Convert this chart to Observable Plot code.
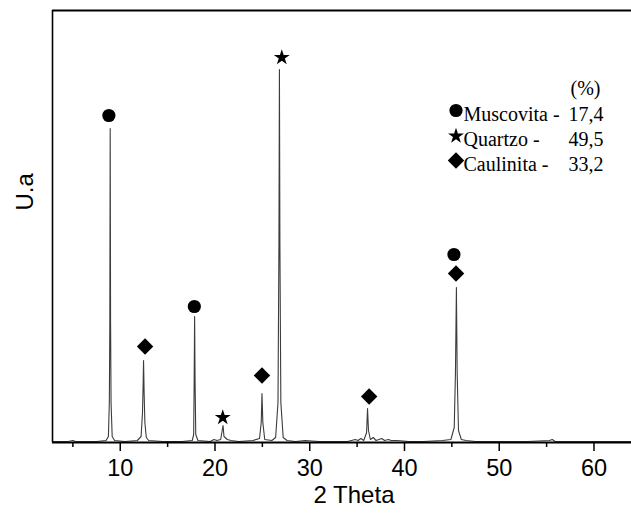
<!DOCTYPE html>
<html><head><meta charset="utf-8">
<script src="https://cdn.jsdelivr.net/npm/d3@7"></script>
<script src="https://cdn.jsdelivr.net/npm/@observablehq/plot@0.6"></script>
<style>body{margin:0;background:#fff} #chart{width:631px;height:513px}</style>
</head><body><div id="chart"></div>
<script>
// XRD profile: 2θ (degrees) and intensity (arbitrary units)
const twoTheta = [2.9,4.5,5.0,5.3,7.5,8.5,8.75,8.85,8.9,8.94,8.98,9.03,9.15,9.4,10.5,11.8,12.2,12.35,12.42,12.46,12.52,12.6,12.75,13.0,14.5,16.5,17.6,17.75,17.8,17.85,17.9,17.97,18.2,19.5,19.9,20.2,20.6,20.85,20.95,21.3,21.7,22.5,24.0,24.7,24.88,24.96,25.05,25.25,26.0,26.4,26.65,26.75,26.8,26.85,26.95,27.2,27.6,28.5,29.5,31.0,32.5,34.0,34.8,35.1,35.4,35.7,36.0,36.1,36.2,36.4,36.7,37.0,37.6,37.9,38.3,38.6,39.2,40.5,42.0,44.0,44.9,45.25,45.38,45.48,45.56,45.7,46.0,46.5,47.5,49.0,51.0,53.0,55.3,55.6,55.9,57.0,59.0,61.0,63.9];
const intensity = [1,1,2,1,1,2,6,40,120,314,120,40,6,2,1,2,6,30,60,82,50,20,5,2,1,1,2,8,60,126,60,8,2,1,3,2,3,17,6,3,2,1,2,4,20,49,20,3,2,5,40,200,373,200,40,5,2,1,2,1,1,1,3,2,4,2,10,34,12,3,5,2,4,2,3,2,2,1,1,2,3,15,70,155,70,12,3,2,1,1,1,1,2,3,1,1,1,1,1];

// Phase markers above the peaks
const markerPhase = ["Muscovita","Caulinita","Muscovita","Quartzo","Caulinita","Quartzo","Caulinita","Muscovita","Caulinita"];
const markerTheta = [8.8,12.62,17.82,20.82,24.96,27.05,36.27,45.22,45.44];
const markerIntensity = [327,96,136,25,67,385,46,188,169];

// Legend
const legendNames = ["Muscovita -","Quartzo -","Caulinita -"];
const legendValues = ["17,4","49,5","33,2"];
const legendHeader = "(%)";

// Axis ticks
const majorTicks = [10,20,30,40,50,60];
const minorTicks = [5,15,25,35,45,55];
const xLabel = "2 Theta";
const yLabel = "U.a";

const symbolOf = {Muscovita: "circle", Quartzo: "star", Caulinita: "diamond2"};
const radiusOf = {Muscovita: 6.6, Quartzo: 5.0, Caulinita: 7.4};

const profile = twoTheta.map((t, i) => ({t, c: intensity[i]}));
const markers = markerPhase.map((p, i) => ({p, t: markerTheta[i], c: markerIntensity[i]}));

const X0 = 2.85, X1 = 63.96, YMAX = 432;
const serif = "'Liberation Serif', 'Times New Roman', serif";

const legendMarks = [];
legendMarks.push(Plot.text([legendHeader], {text: d => d, frameAnchor: "top-left", dx: 518, dy: 70, textAnchor: "start", fontFamily: serif, fontSize: 20, fill: "black"}));
["Muscovita","Quartzo","Caulinita"].forEach((p, i) => {
  const cy = [100, 125.5, 150][i];
  legendMarks.push(Plot.dot([p], {frameAnchor: "top-left", dx: 403.5, dy: cy, symbol: symbolOf[p], r: radiusOf[p], fill: "black", stroke: "none"}));
  legendMarks.push(Plot.text([legendNames[i]], {text: d => d, frameAnchor: "top-left", dx: 411, dy: cy - 4, textAnchor: "start", fontFamily: serif, fontSize: 20, fill: "black"}));
  legendMarks.push(Plot.text([legendValues[i]], {text: d => d, frameAnchor: "top-left", dx: 551, dy: cy - 4, textAnchor: "end", fontFamily: serif, fontSize: 20, fill: "black"}));
});

const plot = Plot.plot({
  width: 631, height: 513,
  marginLeft: 52, marginRight: 0, marginTop: 10, marginBottom: 71,
  style: {fontFamily: "'Liberation Sans', Arial, sans-serif", background: "white", color: "black"},
  x: {domain: [X0, X1], label: null},
  y: {domain: [0, YMAX], axis: null},
  marks: [
    Plot.line(profile, {x: "t", y: "c", stroke: "#3c3c3c", strokeWidth: 1.1}),
    ...["Muscovita","Quartzo","Caulinita"].map(p =>
      Plot.dot(markers.filter(d => d.p === p), {x: "t", y: "c", symbol: () => symbolOf[p], r: radiusOf[p], fill: "black", stroke: "none"})),
    Plot.ruleY([0], {stroke: "black", strokeWidth: 2}),
    Plot.ruleY([YMAX], {stroke: "black", strokeWidth: 2}),
    Plot.ruleX([X0], {stroke: "black", strokeWidth: 1.6}),
    Plot.axisX({ticks: majorTicks, tickSize: 9, tickPadding: 8, fontSize: 23.5, label: null, strokeWidth: 1.5}),
    Plot.axisX({ticks: minorTicks, tickSize: 5, tickFormat: () => "", label: null, strokeWidth: 1.5}),
    Plot.text([xLabel], {text: d => d, frameAnchor: "bottom", dx: 12, dy: 60, fontSize: 24, fill: "black"}),
    Plot.text([yLabel], {text: d => d, frameAnchor: "left", dx: -27, dy: -16, rotate: -90, fontSize: 24, fill: "black"}),
    ...legendMarks
  ]
});
document.getElementById("chart").appendChild(plot);
</script>
</body></html>
